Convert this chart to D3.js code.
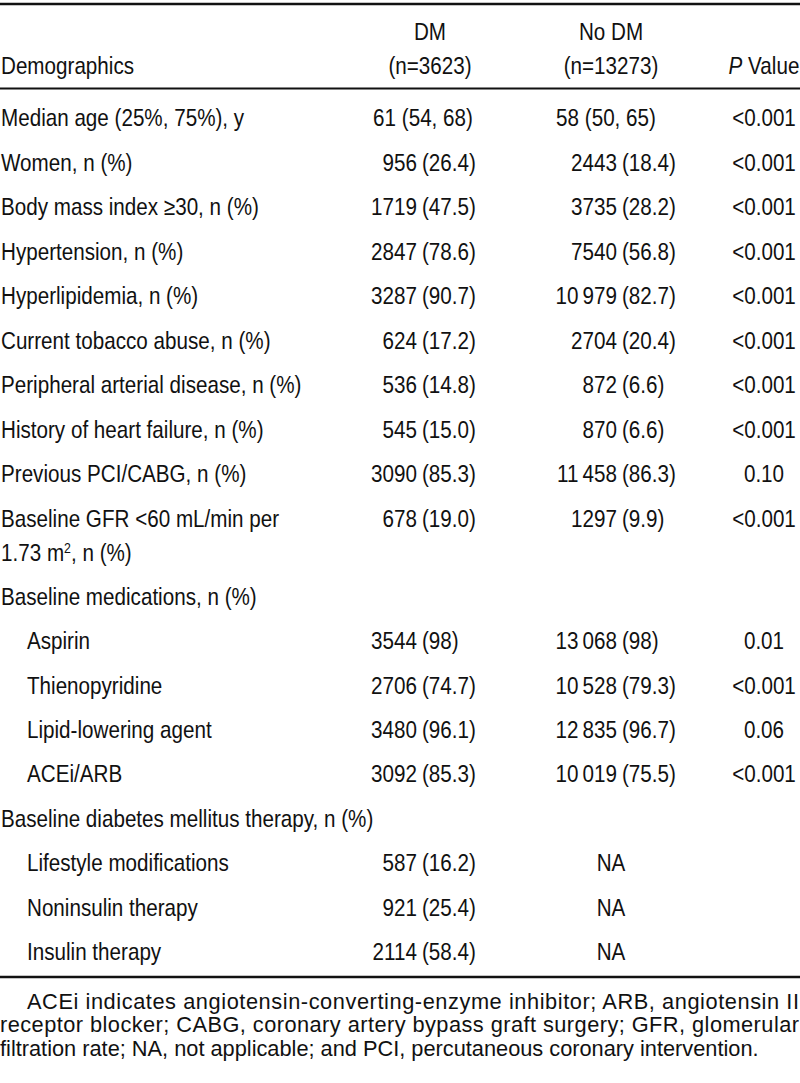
<!DOCTYPE html>
<html><head><meta charset="utf-8">
<script src="https://cdn.jsdelivr.net/npm/d3@7/dist/d3.min.js"></script>
<style>
html,body{margin:0;padding:0;background:#fff;}
svg{display:block;}
text{font-family:"Liberation Sans",Arial,sans-serif;fill:#111;}
</style></head><body>
<svg id="t" width="800" height="1083"></svg>
<script>
// ---- data ----
const headerCols = [["Demographics"], ["DM", "(n=3623)"], ["No DM", "(n=13273)"], ["P Value"]];
const labels = [
  "Median age (25%, 75%), y",
  "Women, n (%)",
  "Body mass index \u226530, n (%)",
  "Hypertension, n (%)",
  "Hyperlipidemia, n (%)",
  "Current tobacco abuse, n (%)",
  "Peripheral arterial disease, n (%)",
  "History of heart failure, n (%)",
  "Previous PCI/CABG, n (%)",
  "Baseline GFR <60 mL/min per|1.73 m\u00b2, n (%)",
  "Baseline medications, n (%)",
  "Aspirin",
  "Thienopyridine",
  "Lipid-lowering agent",
  "ACEi/ARB",
  "Baseline diabetes mellitus therapy, n (%)",
  "Lifestyle modifications",
  "Noninsulin therapy",
  "Insulin therapy"
];
const levels = [0,0,0,0,0,0,0,0,0,0,0,1,1,1,1,0,1,1,1];
const dmValues = ["61 (54, 68)","956 (26.4)","1719 (47.5)","2847 (78.6)","3287 (90.7)","624 (17.2)","536 (14.8)","545 (15.0)","3090 (85.3)","678 (19.0)","","3544 (98)","2706 (74.7)","3480 (96.1)","3092 (85.3)","","587 (16.2)","921 (25.4)","2114 (58.4)"];
const noDmValues = ["58 (50, 65)","2443 (18.4)","3735 (28.2)","7540 (56.8)","10\u2009979 (82.7)","2704 (20.4)","872 (6.6)","870 (6.6)","11\u2009458 (86.3)","1297 (9.9)","","13\u2009068 (98)","10\u2009528 (79.3)","12\u2009835 (96.7)","10\u2009019 (75.5)","","NA","NA","NA"];
const pValues = ["<0.001","<0.001","<0.001","<0.001","<0.001","<0.001","<0.001","<0.001","0.10","<0.001","","0.01","<0.001","0.06","<0.001","","","",""];
const footnote = [
  "ACEi indicates angiotensin-converting-enzyme inhibitor; ARB, angiotensin II",
  "receptor blocker; CABG, coronary artery bypass graft surgery; GFR, glomerular",
  "filtration rate; NA, not applicable; and PCI, percutaneous coronary intervention."
];

// ---- layout ----
const svg = d3.select("#t");
const FS = 24, SX = 0.86;
function txt(parent, xx, yy, anchor, sx = SX) {
  return parent.append("text")
    .attr("transform", `scale(${sx},1)`)
    .attr("x", xx / sx).attr("y", yy)
    .attr("dy", "0.35em")
    .attr("text-anchor", anchor || "start");
}

const slots = [];
let s = 0;
labels.forEach((l)=>{ slots.push(s); s += l.includes("|") ? 1.75 : 1; });
const y = d3.scaleLinear().domain([0, 18.75]).range([118, 952]);
const x = d3.scaleOrdinal().domain(["label","dm","nodm","p"]).range([0, 422, 622, 764]);
const colCenter = {dm: 430, nodm: 611};

// rules
const rule = (yy, w) => svg.append("line").attr("x1",0).attr("x2",800).attr("y1",yy).attr("y2",yy).attr("stroke","#111").attr("stroke-width",w);
rule(4, 2.4);
rule(88.5, 1.8);
rule(977, 2.4);

// header
const hdr = svg.append("g").attr("font-size", FS);
txt(hdr, 1, 66).text(headerCols[0][0]);
txt(hdr, colCenter.dm, 32, "middle").text(headerCols[1][0]);
txt(hdr, colCenter.dm, 66, "middle").text(headerCols[1][1]);
txt(hdr, colCenter.nodm, 32, "middle").text(headerCols[2][0]);
txt(hdr, colCenter.nodm, 66, "middle").text(headerCols[2][1]);
const pv = txt(hdr, x("p"), 66, "middle");
pv.append("tspan").attr("font-style","italic").text("P");
pv.append("tspan").text(" Value");

// rows
const rows = svg.append("g").attr("font-size", FS)
  .selectAll("g").data(labels.map((l,i)=>({l, i}))).join("g")
  .attr("transform", d => `translate(0,${y(slots[d.i])})`);

rows.each(function(d){
  const g = d3.select(this);
  const parts = d.l.split("|");
  parts.forEach((p, k) => {
    const t = txt(g, 1 + levels[d.i]*26, k*34);
    if (p.includes("\u00b2")) {
      const [a,b] = p.split("\u00b2");
      t.append("tspan").text(a);
      t.append("tspan").attr("font-size", FS*0.6).attr("dy","-0.55em").text("2");
      t.append("tspan").attr("dy", "0.33em").text(b);
    } else t.text(p);
  });
  const cell = (val, key) => {
    if (!val) return;
    if (val === "NA") { txt(g, colCenter[key], 0, "middle").text(val); return; }
    if (d.i === 0) { txt(g, key==="dm" ? 423 : 606, 0, "middle").text(val); return; }
    const idx = val.indexOf("(");
    txt(g, x(key) - 5, 0, "end").text(val.slice(0, idx).trim());
    txt(g, x(key), 0).text(val.slice(idx));
  };
  cell(dmValues[d.i], "dm");
  cell(noDmValues[d.i], "nodm");
  if (pValues[d.i]) txt(g, x("p"), 0, "middle").text(pValues[d.i]);
});

// footnote
const FSX = 0.99;
const fn = svg.append("g").attr("font-size", 22);
footnote.forEach((line, k) => {
  const t = txt(fn, k===0 ? 27 : 0, 1001 + k*23.5, "start", FSX).text(line);
  if (k < 2) t.attr("textLength", (k===0 ? 772 : 799) / FSX).attr("lengthAdjust","spacing");
});
</script>
</body></html>
